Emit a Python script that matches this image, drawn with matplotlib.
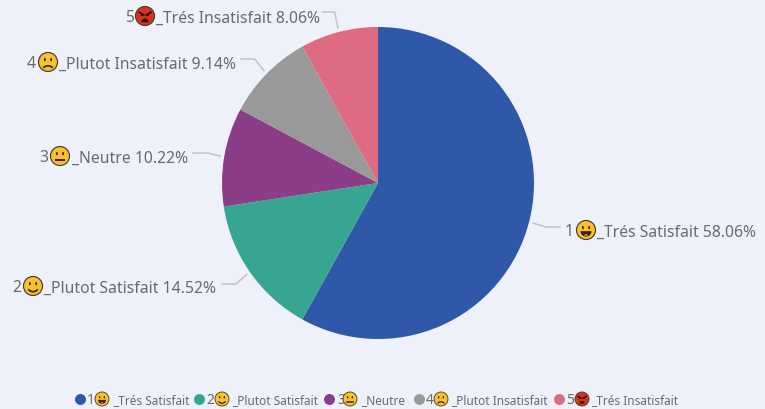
import numpy as np
import matplotlib
matplotlib.use("Agg")
import matplotlib.pyplot as plt
from matplotlib.patches import Circle, Ellipse, Arc, Wedge

numbers = ["1", "2", "3", "4", "5"]
names = ["_Trés Satisfait", "_Plutot Satisfait", "_Neutre", "_Plutot Insatisfait", "_Trés Insatisfait"]
values = [58.06, 14.52, 10.22, 9.14, 8.06]
faces = ["grin", "smile", "neutral", "frown", "angry"]
colors = ["#3058A8", "#36A692", "#8B3D88", "#999999", "#DF6B82"]

BG = "#EEF1F9"
TXT = "#6A6A6A"
H = 410
cx, cy, radius = 378, 184, 156

# label layout, in pixels from the top left: number x, face x, text x, y, line knee x
label_pos = [(565, 586, 597, 231, 560),
             (12, 33, 44, 287, 222),
             (39, 60, 72, 157, 193),
             (27, 48, 59, 63, 241),
             (125, 145, 156, 17, 323)]
line_y = [228, 285, 154, 60, 13]
# legend layout: dot x, number x, face x, text x
legend_pos = [(80, 87, 102, 113),
              (199, 206, 222, 232),
              (329, 337, 350, 361),
              (419, 426, 441, 451),
              (559, 566, 582, 591)]
legend_y = 400

plt.rcParams['font.family'] = ['Noto Sans', 'DejaVu Sans']

fig = plt.figure(figsize=(7.65, 4.1), dpi=100, facecolor=BG)
ax = fig.add_axes([0, 0, 1, 1])
ax.set_facecolor(BG)

ax.pie(values, colors=colors, startangle=90, counterclock=False,
       center=(cx, H - cy), radius=radius, frame=True)
ax.set_xlim(0, 765)
ax.set_ylim(0, H)
ax.axis("off")


def draw_face(x, py, r, kind):
    y = H - py
    fill = "#D8321C" if kind == "angry" else "#F8C22E"
    ax.add_patch(Circle((x, y), r, fc=fill, ec="#4A3C2A", lw=r * 0.09, zorder=5))
    ey = y + r * 0.25
    dx = r * 0.33
    dark = "#3A2410"
    if kind != "angry":
        for sx in (-1, 1):
            ax.add_patch(Ellipse((x + sx * dx, ey), r * 0.2, r * 0.36, fc=dark, ec="none", zorder=6))
    lw = r * 0.13
    if kind == "grin":
        ax.add_patch(Wedge((x, y - r * 0.12), r * 0.58, 180, 360, fc=dark, ec="none", zorder=6))
        ax.add_patch(Wedge((x, y - r * 0.62), r * 0.2, 0, 180, fc="#E8735A", ec="none", zorder=7))
    elif kind == "smile":
        ax.add_patch(Arc((x, y - r * 0.1), r * 1.1, r * 1.0, theta1=205, theta2=335,
                         color=dark, lw=lw, zorder=6))
    elif kind == "neutral":
        ax.plot([x - r * 0.42, x + r * 0.42], [y - r * 0.42] * 2, color=dark, lw=lw * 1.2, zorder=6)
    elif kind == "frown":
        ax.add_patch(Arc((x, y - r * 0.85), r * 1.1, r * 0.9, theta1=25, theta2=155,
                         color=dark, lw=lw, zorder=6))
    else:
        for sx in (-1, 1):
            ax.plot([x + sx * r * 0.6, x + sx * r * 0.15], [y + r * 0.38, y + r * 0.12],
                    color="#2A0A05", lw=lw * 1.1, zorder=6)
            ax.add_patch(Circle((x + sx * dx, y + r * 0.08), r * 0.1, fc="#2A0A05", ec="none", zorder=6))
        ax.add_patch(Wedge((x, y - r * 0.65), r * 0.38, 0, 180, fc="#2A0A05", ec="none", zorder=6))


# outside labels with their leader lines
cum = np.cumsum([0] + values)
for i in range(len(values)):
    nx, fx, tx, py, knee = label_pos[i]
    ax.text(nx, H - py - 1.5, numbers[i], color=TXT, fontsize=11.3, ha="left", va="center")
    draw_face(fx, py, 9.5, faces[i])
    ax.text(tx, H - py - 1.5, f"{names[i]} {values[i]:.2f}%", color=TXT, fontsize=11.3, ha="left", va="center")

    ang = np.deg2rad((cum[i] + cum[i + 1]) / 2 * 3.6)
    x0 = cx + (radius + 4) * np.sin(ang)
    y0 = cy - (radius + 4) * np.cos(ang)
    x1 = cx + (radius + 17) * np.sin(ang)
    y1 = line_y[i]
    ax.plot([x0, x1, knee], [H - y0, H - y1, H - y1], color="#C4C4C4", lw=1.1, zorder=2)

# legend along the bottom
for i in range(len(values)):
    dot, nx, fx, tx = legend_pos[i]
    ax.scatter([dot], [H - legend_y], s=62, color=colors[i], linewidths=0, zorder=4)
    ax.text(nx, H - legend_y - 1, numbers[i], color=TXT, fontsize=10, ha="left", va="center")
    draw_face(fx, legend_y, 7, faces[i])
    ax.text(tx, H - legend_y - 1, names[i], color=TXT, fontsize=8.5, ha="left", va="center")

fig.savefig("out.png", dpi=100, facecolor=BG)
